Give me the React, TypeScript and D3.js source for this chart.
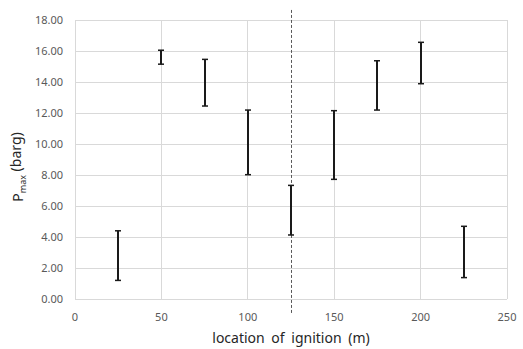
import { useEffect, useRef } from 'react';
import * as d3 from 'd3';

// ignition location (m) and Pmax range (barg)
const locations = [25, 50, 75, 100, 125, 150, 175, 200, 225];
const pLow = [1.2, 15.15, 12.45, 8.02, 4.13, 7.72, 12.19, 13.89, 1.38];
const pHigh = [4.4, 16.05, 15.46, 12.19, 7.33, 12.15, 15.37, 16.56, 4.69];

const xTicks = [0, 50, 100, 150, 200, 250];
const yTicks = [0, 2, 4, 6, 8, 10, 12, 14, 16, 18];

// dashed divider at the middle location
const dividerX = 125;
const dividerY = [-0.9, 18.77];

export default function App() {
  const svgRef = useRef<SVGSVGElement>(null);

  const width = 523;
  const height = 349;
  const m = { left: 75, right: 16, top: 20, bottom: 50 };

  useEffect(() => {
    const svg = d3.select(svgRef.current);
    svg.selectAll('*').remove();

    const x = d3.scaleLinear().domain([0, 250]).range([m.left, width - m.right]);
    const y = d3.scaleLinear().domain([0, 18]).range([height - m.bottom, m.top]);

    const font = "'Noto Sans', 'Open Sans', sans-serif";

    // grid
    const grid = svg.append('g').attr('shape-rendering', 'crispEdges');
    grid
      .selectAll('line.h')
      .data(yTicks)
      .join('line')
      .attr('class', 'h')
      .attr('x1', x(0))
      .attr('x2', x(250))
      .attr('y1', (d) => y(d))
      .attr('y2', (d) => y(d))
      .attr('stroke', '#d9d9d9');
    grid
      .selectAll('line.v')
      .data(xTicks)
      .join('line')
      .attr('class', 'v')
      .attr('y1', y(0))
      .attr('y2', y(18))
      .attr('x1', (d) => x(d))
      .attr('x2', (d) => x(d))
      .attr('stroke', '#d9d9d9');

    // tick labels
    svg
      .append('g')
      .selectAll('text')
      .data(yTicks)
      .join('text')
      .attr('x', 63)
      .attr('y', (d) => y(d))
      .attr('dy', '0.35em')
      .attr('text-anchor', 'end')
      .attr('font-family', font)
      .attr('font-size', 11)
      .attr('fill', '#595959')
      .text((d) => d3.format('.2f')(d));

    svg
      .append('g')
      .selectAll('text')
      .data(xTicks)
      .join('text')
      .attr('x', (d) => x(d))
      .attr('y', 317)
      .attr('dy', '0.35em')
      .attr('text-anchor', 'middle')
      .attr('font-family', font)
      .attr('font-size', 11)
      .attr('fill', '#595959')
      .text((d) => d);

    // dashed divider
    svg
      .append('line')
      .attr('x1', Math.round(x(dividerX)) + 0.5)
      .attr('x2', Math.round(x(dividerX)) + 0.5)
      .attr('y1', y(dividerY[0]))
      .attr('y2', y(dividerY[1]))
      .attr('stroke', '#595959')
      .attr('stroke-width', 1)
      .attr('stroke-dasharray', '3,2');

    // range bars
    const bars = svg.append('g').attr('stroke', '#1a1a1a');
    locations.forEach((loc, i) => {
      const cx = Math.round(x(loc));
      const y1 = y(pHigh[i]);
      const y2 = y(pLow[i]);
      bars
        .append('line')
        .attr('x1', cx)
        .attr('x2', cx)
        .attr('y1', y1)
        .attr('y2', y2)
        .attr('stroke-width', 2);
      [y1, y2].forEach((yy) => {
        bars
          .append('line')
          .attr('x1', cx - 3)
          .attr('x2', cx + 3)
          .attr('y1', yy)
          .attr('y2', yy)
          .attr('stroke-width', 1.5);
      });
    });

    // axis titles
    svg
      .append('text')
      .attr('x', x(125))
      .attr('y', 338)
      .attr('dy', '0.35em')
      .attr('text-anchor', 'middle')
      .attr('font-family', font)
      .attr('font-size', 14)
      .attr('word-spacing', 3)
      .attr('fill', '#262626')
      .text('location of ignition (m)');

    const yt = svg
      .append('text')
      .attr('transform', 'translate(18,167) rotate(-90)')
      .attr('dy', '0.35em')
      .attr('text-anchor', 'middle')
      .attr('font-family', font)
      .attr('font-size', 14)
      .attr('fill', '#262626');
    yt.append('tspan').text('P');
    yt.append('tspan').attr('font-size', 9).attr('dy', '0.35em').text('max');
    yt.append('tspan').attr('dy', '-0.35em').text(' (barg)');
  }, []); // eslint-disable-line react-hooks/exhaustive-deps

  return (
    <div style={{ position: 'absolute', left: 0, top: 0 }}>
      <svg ref={svgRef} width={width} height={height} style={{ display: 'block', background: '#fff' }} />
    </div>
  );
}
